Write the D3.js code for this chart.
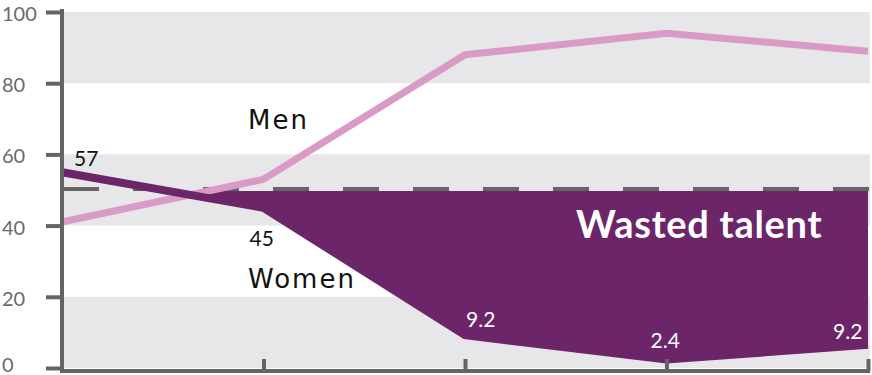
<!DOCTYPE html>
<html>
<head>
<meta charset="utf-8">
<script src="https://cdn.jsdelivr.net/npm/d3@7"></script>
<style>
  body { margin: 0; background: #fff; }
  svg { display: block; font-family: "Century Gothic", Lato, "Noto Sans", sans-serif; }
</style>
</head>
<body>
<svg id="chart" width="872" height="375"></svg>
<script>
// data
var stages = ['s1', 's2', 's3', 's4', 's5'];
var men = [41, 53, 88, 94, 89];
var women = [55, 45, 9.2, 2.4, 6.5];
var womenLabels = ['57', '45', '9.2', '2.4', '9.2'];
var yTicks = [0, 20, 40, 60, 80, 100];
var bands = [[80, 100], [40, 60], [0, 20]];
var parity = 50;

var svg = d3.select('#chart');
var axisColor = '#646464';

var x = d3.scalePoint().domain(stages).range([62, 868]);
var y = d3.scaleLinear().domain([0, 100]).range([368, 12]);

// grey bands
svg.append('g').selectAll('rect')
  .data(bands)
  .join('rect')
  .attr('x', 64).attr('width', 806)
  .attr('y', function(d) { return y(d[1]); })
  .attr('height', function(d) { return y(d[0]) - y(d[1]); })
  .attr('fill', '#e7e7e9');

// dashed parity line
svg.append('line')
  .attr('x1', 63).attr('x2', 870)
  .attr('y1', y(parity) - 1).attr('y2', y(parity) - 1)
  .attr('stroke', axisColor).attr('stroke-width', 4)
  .attr('stroke-dasharray', '36,34');

// wasted talent area (below the 50 line only)
svg.append('clipPath').attr('id', 'below')
  .append('rect')
  .attr('x', 0).attr('y', y(parity) + 1)
  .attr('width', 872).attr('height', 375);

var area = d3.area()
  .x(function(d, i) { return x(stages[i]); })
  .y0(y(parity))
  .y1(function(d) { return y(d); });

svg.append('path')
  .datum(women)
  .attr('clip-path', 'url(#below)')
  .attr('fill', '#6c2569')
  .attr('d', area);

var line = d3.line()
  .x(function(d, i) { return x(stages[i]); })
  .y(function(d) { return y(d); });

svg.append('path')
  .datum(men)
  .attr('fill', 'none')
  .attr('stroke', '#d99ac6')
  .attr('stroke-width', 7)
  .attr('d', line);

svg.append('path')
  .datum(women)
  .attr('fill', 'none')
  .attr('stroke', '#6c2569')
  .attr('stroke-width', 8)
  .attr('d', line);

// axes
var yAxis = svg.append('g')
  .attr('transform', 'translate(62,0)')
  .call(d3.axisLeft(y).tickValues(yTicks).tickSize(16));
var xAxis = svg.append('g')
  .attr('transform', 'translate(0,371)')
  .call(d3.axisBottom(x).tickSize(-12).tickFormat(''));

yAxis.select('.domain').attr('d', 'M0,9V373').attr('stroke', axisColor).attr('stroke-width', 4);
xAxis.select('.domain').attr('d', 'M60,0H870').attr('stroke', axisColor).attr('stroke-width', 4);
yAxis.selectAll('.tick line').attr('stroke', axisColor).attr('stroke-width', 4);
xAxis.selectAll('.tick line').attr('stroke', axisColor).attr('stroke-width', 4);
xAxis.selectAll('.tick').filter(function(d, i) { return i === 0; }).remove();
yAxis.selectAll('.tick text')
  .attr('fill', '#6a6a6a')
  .attr('text-anchor', 'start')
  .style('font-size', '20px')
  .style('font-family', '"Century Gothic", Lato, sans-serif')
  .attr('x', -60)
  .attr('dy', function(d) { return d === 0 ? '0.15em' : '0.42em'; });

// point labels
var labelPos = [
  { dx: 12, dy: -6, color: '#111' },
  { dx: -14, dy: 38, color: '#111' },
  { dx: 1, dy: -8, color: '#fff' },
  { dx: -16, dy: -11, color: '#fff' },
  { dx: -35, dy: -6, color: '#fff' }
];
svg.append('g').selectAll('text')
  .data(womenLabels)
  .join('text')
  .attr('x', function(d, i) { return x(stages[i]) + labelPos[i].dx; })
  .attr('y', function(d, i) { return y(women[i]) + labelPos[i].dy; })
  .attr('fill', function(d, i) { return labelPos[i].color; })
  .style('font-size', '21px')
  .text(function(d) { return d; });

// series names
svg.append('text').attr('x', 248).attr('y', 129)
  .style('font-family', '"DejaVu Sans", sans-serif')
  .style('font-size', '26px').style('letter-spacing', '2px')
  .attr('fill', '#111').text('Men');
svg.append('text').attr('x', 248).attr('y', 288)
  .style('font-family', '"DejaVu Sans", sans-serif')
  .style('font-size', '26px').style('letter-spacing', '2px')
  .attr('fill', '#111').text('Women');

svg.append('text').attr('x', 576).attr('y', 238)
  .style('font-size', '38px').style('font-weight', 'bold')
  .style('letter-spacing', '0.7px')
  .attr('fill', '#fff').text('Wasted talent');
</script>
</body>
</html>
